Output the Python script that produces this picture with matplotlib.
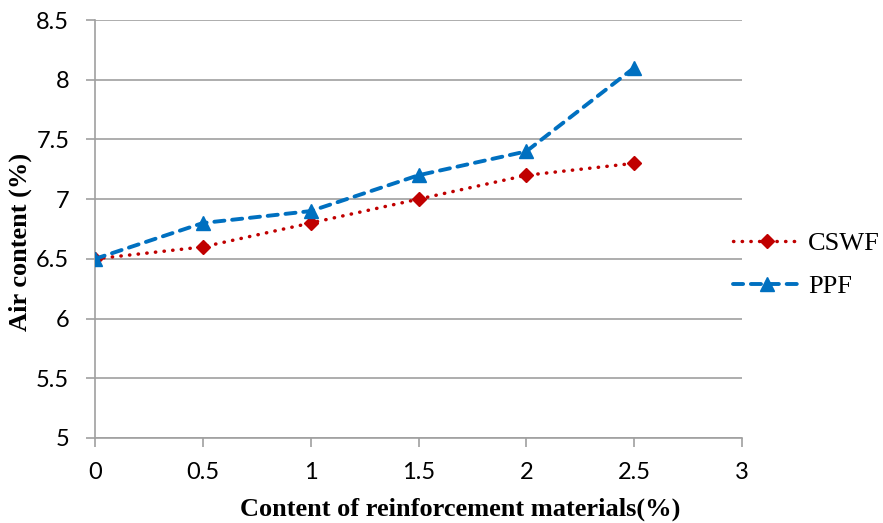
import matplotlib.pyplot as plt

x = [0, 0.5, 1, 1.5, 2, 2.5]
cswf = [6.5, 6.6, 6.8, 7.0, 7.2, 7.3]
ppf = [6.5, 6.8, 6.9, 7.2, 7.4, 8.1]
xticks = [0, 0.5, 1, 1.5, 2, 2.5, 3]
yticks = [5, 5.5, 6, 6.5, 7, 7.5, 8, 8.5]

fig = plt.figure(figsize=(8.83, 5.23), dpi=100)
ax = fig.add_axes([95/883, 85/523, 647/883, 418/523])

l1, = ax.plot(x, cswf, color='#C00000', linewidth=2.5, dashes=(0.1, 2.4),
              dash_capstyle='round', marker='D', markersize=6.8,
              label='CSWF', zorder=3)
l2, = ax.plot(x, ppf, color='#0070C0', linewidth=2.8, dashes=(2.6, 2.0),
              dash_capstyle='round', marker='^', markersize=10,
              label='PPF', zorder=3)

ax.set_xlim(0, 3)
ax.set_ylim(5, 8.5)
ax.set_xticks(xticks)
ax.set_xticklabels(['0', '0.5', '1', '1.5', '2', '2.5', '3'])
ax.set_yticks(yticks)
ax.set_yticklabels(['5', '5.5', '6', '6.5', '7', '7.5', '8', '8.5'])
ax.grid(axis='y', color='#A0A0A0', linewidth=1.2)
ax.set_axisbelow(True)

for s in ['top', 'right']:
    ax.spines[s].set_visible(False)
for s in ['left', 'bottom']:
    ax.spines[s].set_color('#A0A0A0')
    ax.spines[s].set_linewidth(1.2)

ax.tick_params(axis='both', colors='#A0A0A0', length=6.5, width=1.2,
               labelcolor='black', labelsize=17)
ax.tick_params(axis='x', pad=11)
ax.tick_params(axis='y', pad=12)
for lab in ax.get_xticklabels() + ax.get_yticklabels():
    lab.set_family('Lato')

ax.set_xlabel('Content of reinforcement materials(%)', family='Liberation Serif',
              fontsize=19, fontweight='bold', labelpad=10)
ax.set_ylabel('Air content (%)', family='Liberation Serif',
              fontsize=19, fontweight='bold', labelpad=3)
# the labels sit a bit off the axes centre in the original
ax.xaxis.label.set_x(0.564)
ax.yaxis.label.set_y(0.47)

fig.legend(handles=[l1, l2], loc='center left',
           bbox_to_anchor=(733/883, (523-265)/523), frameon=False,
           borderpad=0, borderaxespad=0,
           prop={'family': 'Liberation Serif', 'size': 19},
           handlelength=2.6, handletextpad=0.25, labelspacing=0.75)

fig.savefig('out.png', dpi=100)
